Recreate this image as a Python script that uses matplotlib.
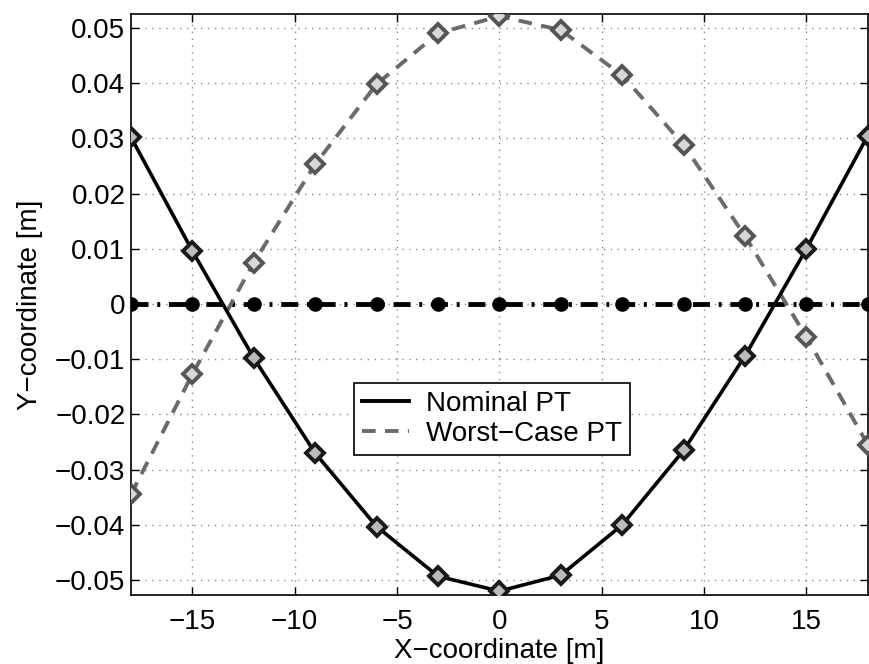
import matplotlib
matplotlib.use("Agg")
import matplotlib.pyplot as plt
from matplotlib.lines import Line2D

plt.rcParams['font.family'] = ['Liberation Sans', 'DejaVu Sans']

x = [-18, -15, -12, -9, -6, -3, 0, 3, 6, 9, 12, 15, 18]
nominal = [0.0302, 0.0096, -0.0098, -0.0270, -0.0403, -0.0493, -0.0520,
           -0.0491, -0.0400, -0.0265, -0.0094, 0.0100, 0.0305]
worst = [-0.0345, -0.0127, 0.0075, 0.0253, 0.0398, 0.0490, 0.0521,
         0.0496, 0.0414, 0.0288, 0.0123, -0.0060, -0.0255]
zero = [0.0] * len(x)

xticks = [-15, -10, -5, 0, 5, 10, 15]
xticklabels = ['\u221215', '\u221210', '\u22125', '0', '5', '10', '15']
yticks = [-0.05, -0.04, -0.03, -0.02, -0.01, 0, 0.01, 0.02, 0.03, 0.04, 0.05]
yticklabels = ['\u22120.05', '\u22120.04', '\u22120.03', '\u22120.02', '\u22120.01', '0',
               '0.01', '0.02', '0.03', '0.04', '0.05']
legend_labels = ['Nominal PT', 'Worst\u2212Case PT']

fig = plt.figure(figsize=(8.69, 6.64), dpi=100)
ax = fig.add_axes([0.1507, 0.1039, 0.848, 0.875])

ax.plot(x, zero, linestyle='-.', color='black', linewidth=3.5, marker='o',
        markersize=9.5, markerfacecolor='black', markeredgecolor='black',
        dashes=(3.5, 1.8, 0.6, 1.8), zorder=3)
ax.plot(x, worst, linestyle='--', color='#6a6a6a', linewidth=2.8, marker='D',
        markersize=9, markerfacecolor='#d8d8d8', markeredgecolor='#555555',
        markeredgewidth=2.8, dashes=(3.5, 2.4), zorder=4)
ax.plot(x, nominal, linestyle='-', color='black', linewidth=2.6, marker='D',
        markersize=9, markerfacecolor='#bbbbbb', markeredgecolor='#1a1a1a',
        markeredgewidth=2.8, zorder=5)

ax.set_xlim(-18, 18)
ax.set_ylim(-0.0527, 0.0525)
ax.set_xticks(xticks)
ax.set_xticklabels(xticklabels)
ax.set_yticks(yticks)
ax.set_yticklabels(yticklabels)
ax.tick_params(direction='in', top=True, right=True, labelsize=20, length=6, width=1)
ax.tick_params(axis='x', pad=10)
ax.tick_params(axis='y', pad=4)
ax.grid(True, linestyle=(0, (1, 4)), color='#888888', linewidth=1)
ax.set_axisbelow(True)
for s in ax.spines.values():
    s.set_linewidth(1.2)

ax.set_xlabel('X\u2212coordinate [m]', fontsize=20, labelpad=2)
ax.set_ylabel('Y\u2212coordinate [m]', fontsize=20, labelpad=9)

handles = [Line2D([], [], color='black', linewidth=2.8, linestyle='-'),
           Line2D([], [], color='#6a6a6a', linewidth=2.8, linestyle='--', dashes=(3.5, 2.4))]
leg = ax.legend(handles, legend_labels, loc='center',
                bbox_to_anchor=(0.49, 0.303), fontsize=20, fancybox=False,
                framealpha=1, edgecolor='black', handlelength=1.7,
                handletextpad=0.6, borderpad=0.3, labelspacing=0.15,
                borderaxespad=0)
leg.get_frame().set_linewidth(1.2)

fig.savefig('out.png', dpi=100)
